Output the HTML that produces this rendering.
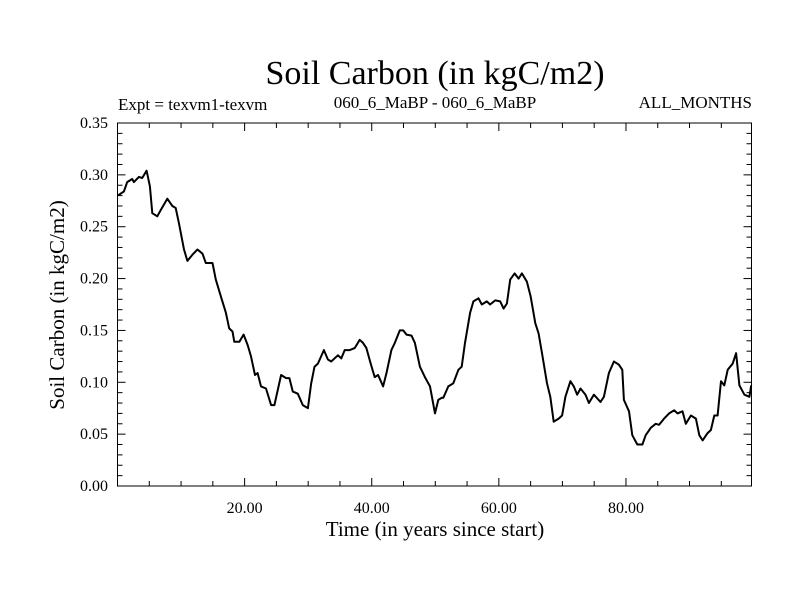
<!DOCTYPE html>
<html><head><meta charset="utf-8"><style>
body{margin:0;background:#fff;}
svg text{font-family:"Liberation Serif",serif;fill:#000;}
</style></head><body>
<svg id="chart" width="800" height="600" xmlns="http://www.w3.org/2000/svg">
<text x="435" y="84" font-size="34" text-anchor="middle">Soil Carbon (in kgC/m2)</text>
<text x="118" y="110" font-size="17">Expt = texvm1-texvm</text>
<text x="435" y="108" font-size="17" text-anchor="middle">060_6_MaBP - 060_6_MaBP</text>
<text x="752" y="108" font-size="17" text-anchor="end">ALL_MONTHS</text>
<text x="435" y="536" font-size="21" text-anchor="middle">Time (in years since start)</text>
<text transform="translate(64,305) rotate(-90)" font-size="21" text-anchor="middle">Soil Carbon (in kgC/m2)</text>
<g id="axes"></g>
<path id="series" fill="none" stroke="#000" stroke-width="2" stroke-linejoin="round"/>
<rect x="117.5" y="123" width="634" height="363" fill="none" stroke="#000" stroke-width="1"/>
</svg>
<script>
const years=[0.05,1.0,1.53,2.32,2.58,3.37,3.89,4.58,5.1,5.47,6.26,6.79,7.84,8.63,9.16,9.68,10.47,11.0,11.79,12.58,13.37,13.89,14.95,15.47,16.26,17.05,17.58,18.1,18.37,19.16,19.84,20.47,21.0,21.63,22.05,22.58,23.37,24.16,24.68,25.74,26.53,27.05,27.58,28.37,29.16,29.95,30.47,31.0,31.53,32.47,33.1,33.63,34.68,35.21,35.74,36.53,37.32,38.1,38.63,39.16,39.84,40.47,41.0,41.79,42.32,43.1,43.63,44.42,44.95,45.47,46.26,46.79,47.58,48.37,49.16,49.95,50.47,51.0,51.26,52.05,52.84,53.63,54.16,54.68,55.47,56.0,56.79,57.32,58.1,58.63,59.42,60.21,60.74,61.26,61.79,62.47,63.1,63.63,64.42,65.0,65.74,66.26,66.79,67.58,68.1,68.63,69.42,69.95,70.47,71.26,71.79,72.32,72.84,73.63,74.16,74.95,76.0,76.53,77.32,78.1,78.89,79.42,79.68,80.47,81.0,81.79,82.58,83.1,83.89,84.68,85.21,86.0,86.79,87.58,88.1,88.89,89.42,90.21,91.0,91.53,92.05,92.84,93.37,93.89,94.42,94.95,95.47,96.0,96.79,97.32,97.84,98.63,99.42,99.7];
const carbon=[0.280,0.284,0.293,0.296,0.293,0.298,0.297,0.304,0.289,0.263,0.260,0.266,0.277,0.270,0.268,0.253,0.228,0.217,0.223,0.228,0.224,0.215,0.215,0.199,0.183,0.167,0.152,0.149,0.139,0.139,0.146,0.136,0.125,0.107,0.109,0.096,0.094,0.078,0.078,0.107,0.104,0.104,0.091,0.089,0.078,0.075,0.099,0.115,0.118,0.131,0.122,0.120,0.126,0.123,0.131,0.131,0.133,0.141,0.138,0.133,0.118,0.105,0.107,0.096,0.109,0.131,0.138,0.150,0.150,0.146,0.145,0.138,0.115,0.105,0.096,0.070,0.083,0.085,0.085,0.096,0.099,0.112,0.115,0.138,0.167,0.178,0.181,0.175,0.178,0.175,0.179,0.178,0.171,0.176,0.199,0.205,0.200,0.205,0.197,0.183,0.157,0.147,0.128,0.099,0.086,0.062,0.065,0.068,0.086,0.101,0.096,0.088,0.094,0.088,0.080,0.088,0.081,0.086,0.109,0.120,0.117,0.112,0.083,0.072,0.049,0.040,0.040,0.049,0.056,0.060,0.059,0.065,0.070,0.073,0.070,0.072,0.060,0.068,0.065,0.049,0.044,0.051,0.054,0.068,0.068,0.101,0.097,0.112,0.118,0.128,0.097,0.088,0.086,0.097];
const xTickLabels=["20.00","40.00","60.00","80.00"];
const xTickValues=[20,40,60,80];
const yTickLabels=["0.00","0.05","0.10","0.15","0.20","0.25","0.30","0.35"];
const yTickValues=[0,0.05,0.10,0.15,0.20,0.25,0.30,0.35];
const X0=117.5,X1=751.5,Y0=486,Y1=123,xMax=99.75,yMax=0.35;
function sx(v){return X0+(X1-X0)*v/xMax;}
function sy(v){return Y0-(Y0-Y1)*v/yMax;}
const NS="http://www.w3.org/2000/svg";
const axes=document.getElementById('axes');
function line(x1,y1,x2,y2,name){const l=document.createElementNS(NS,'line');l.setAttribute('x1',x1);l.setAttribute('y1',y1);l.setAttribute('x2',x2);l.setAttribute('y2',y2);l.setAttribute('stroke','#000');l.setAttribute('stroke-width','1');


axes.appendChild(l);}
function txt(x,y,s,anchor,name){const t=document.createElementNS(NS,'text');t.setAttribute('x',x);t.setAttribute('y',y);t.setAttribute('font-size','16');t.setAttribute('text-anchor',anchor);t.textContent=s;


axes.appendChild(t);}
for(let v=5;v<xMax;v+=5){const x=sx(v);const L=(v%20===0)?8:5;line(x,Y0,x,Y0-L,'x-tick');line(x,Y1,x,Y1+L,'x-tick-top');}
for(let i=0;i<=35;i++){const v=i/100;const y=sy(v);const L=(i%5===0)?8:5;line(X0,y,X0+L,y,'y-tick');line(X1,y,X1-L,y,'y-tick-right');}
xTickValues.forEach((v,i)=>txt(sx(v),513,xTickLabels[i],'middle','x-tick-label'));
yTickValues.forEach((v,i)=>txt(108,sy(v)+5,yTickLabels[i],'end','y-tick-label'));
let d='';years.forEach((v,i)=>{d+=(i?'L':'M')+sx(v).toFixed(1)+','+sy(carbon[i]).toFixed(1);});
document.getElementById('series').setAttribute('d',d);
</script>
</body></html>
